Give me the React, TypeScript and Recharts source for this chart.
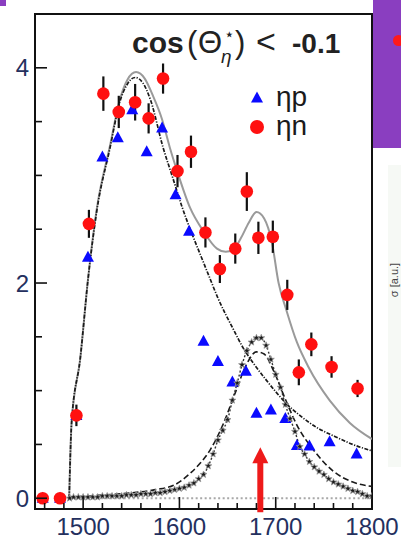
import React from 'react';
import {
  ComposedChart,
  Line,
  Scatter,
  XAxis,
  YAxis,
  ErrorBar,
  ReferenceArea,
  ReferenceDot,
  Legend,
} from 'recharts';

// ---- measured points -------------------------------------------------------
// eta n (quasi-free neutron), red circles with statistical errors
const etaNMass = [1458, 1476, 1493, 1506, 1521, 1537, 1554, 1568, 1583, 1598, 1612, 1627, 1642, 1658, 1670, 1682, 1697, 1712, 1724, 1737, 1758, 1785];
const etaNValue = [0.0, 0.0, 0.77, 2.55, 3.76, 3.59, 3.68, 3.53, 3.9, 3.04, 3.22, 2.47, 2.13, 2.32, 2.85, 2.42, 2.43, 1.89, 1.17, 1.43, 1.22, 1.02];
const etaNError = [0, 0, 0.1, 0.13, 0.16, 0.15, 0.17, 0.14, 0.14, 0.15, 0.15, 0.14, 0.13, 0.14, 0.18, 0.15, 0.15, 0.14, 0.12, 0.11, 0.1, 0.08];

// eta p (quasi-free proton), blue triangles
const etaPMass = [1458, 1476, 1493, 1505, 1520, 1536, 1551, 1566, 1582, 1596, 1610, 1625, 1640, 1655, 1669, 1680, 1695, 1710, 1722, 1735, 1756, 1784];
const etaPValue = [0, 0, 0.77, 2.24, 3.17, 3.35, 3.61, 3.22, 3.44, 2.82, 2.48, 1.46, 1.27, 1.08, 1.18, 0.79, 0.82, 0.74, 0.49, 0.485, 0.525, 0.41];

// ---- model curves ----------------------------------------------------------
// full fit to eta n (S11 + narrow structure), thin grey line
const fitNMass = [1485.5, 1488, 1497, 1505, 1514, 1528, 1538, 1546, 1555, 1564, 1572, 1582, 1590, 1598, 1611, 1625, 1639, 1648, 1656, 1664, 1672, 1680, 1688, 1696, 1703, 1711, 1722, 1734, 1756, 1777, 1800];
const fitNValue = [0, 0.7, 1.3, 2.03, 2.68, 3.28, 3.7, 3.89, 3.96, 3.9, 3.75, 3.52, 3.26, 3.03, 2.7, 2.48, 2.32, 2.29, 2.31, 2.42, 2.56, 2.66, 2.6, 2.38, 2.0, 1.75, 1.45, 1.22, 0.91, 0.7, 0.55];

// S11-type background, black dash-dot
const bgMass = [1485.5, 1488, 1497, 1505, 1514, 1528, 1538, 1546, 1554, 1562, 1570, 1583, 1593, 1603, 1612, 1621, 1630, 1640, 1656, 1666, 1678, 1690, 1700, 1711, 1725, 1744, 1760, 1780, 1800];
const bgValue = [0, 0.7, 1.3, 2.03, 2.66, 3.26, 3.68, 3.85, 3.91, 3.86, 3.7, 3.26, 2.98, 2.7, 2.48, 2.28, 2.08, 1.86, 1.57, 1.4, 1.24, 1.1, 0.99, 0.88, 0.77, 0.65, 0.58, 0.5, 0.44];

// narrow resonance folded with Fermi motion, stars
const narrowMass = [1486, 1490, 1495, 1500, 1505, 1510, 1515, 1520, 1525, 1530, 1535, 1540, 1545, 1550, 1555, 1560, 1565, 1570, 1575, 1580, 1585, 1590, 1595, 1600, 1605, 1610, 1615, 1620, 1625, 1630, 1635, 1640, 1645, 1650, 1655, 1660, 1665, 1670, 1675, 1680, 1685, 1690, 1695, 1700, 1705, 1710, 1715, 1720, 1725, 1730, 1735, 1740, 1745, 1750, 1755, 1760, 1765, 1770, 1775, 1780, 1785, 1790, 1795, 1800];
const narrowValue = [0.0, 0.01, 0.01, 0.01, 0.01, 0.01, 0.01, 0.02, 0.02, 0.02, 0.02, 0.02, 0.03, 0.03, 0.03, 0.04, 0.04, 0.04, 0.05, 0.05, 0.06, 0.07, 0.08, 0.09, 0.1, 0.12, 0.14, 0.18, 0.22, 0.3, 0.41, 0.54, 0.63, 0.73, 0.91, 1.07, 1.24, 1.37, 1.45, 1.49, 1.49, 1.42, 1.29, 1.15, 1.03, 0.87, 0.74, 0.62, 0.48, 0.41, 0.34, 0.29, 0.25, 0.22, 0.18, 0.15, 0.13, 0.11, 0.09, 0.07, 0.06, 0.04, 0.02, 0.02];

// broader resonance shape, black dashes
const broadMass = [1486, 1520, 1550, 1575, 1594, 1611, 1621, 1632, 1645, 1658, 1670, 1680, 1688, 1698, 1710, 1722, 1740, 1760, 1780, 1800];
const broadValue = [0.01, 0.03, 0.05, 0.08, 0.12, 0.23, 0.32, 0.45, 0.68, 0.98, 1.25, 1.36, 1.34, 1.18, 0.92, 0.68, 0.44, 0.25, 0.15, 0.11];

// zero reference above threshold
const zeroMass = [1486, 1800];
const zeroValue = [0, 0];

// axes
const xTicks = [1460, 1480, 1500, 1520, 1540, 1560, 1580, 1600, 1620, 1640, 1660, 1680, 1700, 1720, 1740, 1760, 1780, 1800];
const xLabelled = [1500, 1600, 1700, 1800];
const yTicks = [0, 0.5, 1, 1.5, 2, 2.5, 3, 3.5, 4];
const yLabelled = [0, 2, 4];

const arrowMass = 1684;

const legendItems = [
  { name: 'ηp', marker: 'triangle', color: '#0a0aff' },
  { name: 'ηn', marker: 'circle', color: '#ff1010' },
];

const zip = (m: number[], v: number[]) => m.map((mass, i) => ({ mass, value: v[i] }));

const etaN = etaNMass.map((mass, i) => ({ mass, value: etaNValue[i], err: etaNError[i] }));
const etaP = zip(etaPMass, etaPValue);
const fitN = zip(fitNMass, fitNValue);
const bg = zip(bgMass, bgValue);
const narrow = zip(narrowMass, narrowValue);
const broad = zip(broadMass, broadValue);
const zero = zip(zeroMass, zeroValue);

const LABEL_COLOR = '#24305e';
const FONT = '"Liberation Sans", Arial, sans-serif';

const XTick = (props: any) => {
  const { x, y, payload } = props;
  const major = xLabelled.includes(payload.value);
  return (
    <g>
      <line x1={x} x2={x} y1={y} y2={y - (major ? 12 : 6)} stroke="#111" strokeWidth={1.6} />
      {major && (
        <text x={x} y={y + 26} textAnchor="middle" fontSize={24} fontFamily={FONT} fill={LABEL_COLOR}>
          {payload.value}
        </text>
      )}
    </g>
  );
};

const YTick = (props: any) => {
  const { x, y, payload } = props;
  const major = yLabelled.includes(payload.value);
  return (
    <g>
      <line x1={x} x2={x + (major ? 12 : 7)} y1={y} y2={y} stroke="#111" strokeWidth={1.6} />
      {major && (
        <text x={x - 6} y={y} dy="0.36em" textAnchor="end" fontSize={24} fontFamily={FONT} fill={LABEL_COLOR}>
          {payload.value}
        </text>
      )}
    </g>
  );
};

const starPath = (cx: number, cy: number, R: number, r: number) => {
  let d = '';
  for (let k = 0; k < 10; k++) {
    const rad = k % 2 === 0 ? R : r;
    const a = -Math.PI / 2 + (k * Math.PI) / 5;
    d += `${k === 0 ? 'M' : 'L'}${(cx + rad * Math.cos(a)).toFixed(2)},${(cy + rad * Math.sin(a)).toFixed(2)}`;
  }
  return d + 'Z';
};

const StarDot = (props: any) => {
  const { cx, cy, index } = props;
  if (cx == null || cy == null) return <g key={`s${index}`} />;
  return (
    <path
      key={`s${index}`}
      d={starPath(cx, cy, 3.6, 1.5)}
      fill="#1a1a1a"
      stroke="#9a9a9a"
      strokeWidth={0.8}
    />
  );
};

const Triangle = (props: any) => {
  const { cx, cy } = props;
  return <path d={`M${cx},${cy - 6.5} L${cx + 6},${cy + 4.5} L${cx - 6},${cy + 4.5} Z`} fill="#0a0aff" />;
};

const RedDot = (props: any) => {
  const { cx, cy } = props;
  return <circle cx={cx} cy={cy} r={6.3} fill="#ff1010" />;
};

const Arrow = (props: any) => {
  const { cx, cy } = props;
  return (
    <g>
      <rect x={cx - 3} y={cy - 36} width={6} height={50} fill="#ee1a1a" />
      <path d={`M${cx},${cy - 51} L${cx + 8},${cy - 35} L${cx - 8},${cy - 35} Z`} fill="#ee1a1a" />
    </g>
  );
};

const LegendBox = () => (
  <svg width={100} height={62} style={{ overflow: 'visible', display: 'block' }}>
    {legendItems.map((it, i) => {
      const cy = 13 + i * 29;
      return (
        <g key={it.name}>
          {it.marker === 'triangle' ? (
            <path d={`M12,${cy - 6.5} L18,${cy + 4.5} L6,${cy + 4.5} Z`} fill={it.color} />
          ) : (
            <circle cx={12} cy={cy} r={7} fill={it.color} />
          )}
          <text x={31} y={cy + 8} fontSize={28} fontFamily={FONT} fill="#1a1a1a">
            {it.name}
          </text>
        </g>
      );
    })}
  </svg>
);

export default function App() {
  return (
    <div style={{ position: 'absolute', left: 0, top: 0, width: 401, height: 539, background: '#fff' }}>
      {/* neighbouring slide fragments */}
      <div style={{ position: 'absolute', left: 0, top: 0, width: 6, height: 6, background: '#8a3ec0' }} />
      <div style={{ position: 'absolute', left: 373, top: 0, width: 28, height: 148, background: '#8a3ec0', overflow: 'hidden' }}>
        <div style={{ position: 'absolute', left: 20, top: 35, width: 11, height: 11, borderRadius: 6, background: '#ff1a1a' }} />
      </div>
      <div style={{ position: 'absolute', left: 388, top: 165, width: 13, height: 302, background: '#f6f9f5' }}>
        <svg width={13} height={302} style={{ position: 'absolute', left: 0, top: 0 }}>
          <text
            x={10}
            y={115}
            transform="rotate(-90 10 115)"
            textAnchor="middle"
            fontSize={11}
            fontFamily={FONT}
            fill="#444"
          >
            σ [a.u.]
          </text>
        </svg>
      </div>

      <ComposedChart
        width={401}
        height={539}
        margin={{ top: 14, right: 29, bottom: 0, left: 0 }}
        style={{ position: 'absolute', left: 0, top: 0 }}
      >
        <XAxis
          dataKey="mass"
          type="number"
          domain={[1450, 1800]}
          ticks={xTicks}
          interval={0}
          height={30}
          tickSize={0}
          tickMargin={0}
          axisLine={false}
          tickLine={false}
          tick={<XTick />}
          allowDataOverflow
        />
        <YAxis
          type="number"
          domain={[-0.1, 4.5]}
          ticks={yTicks}
          interval={0}
          width={35}
          tickSize={0}
          tickMargin={0}
          axisLine={false}
          tickLine={false}
          tick={<YTick />}
          allowDataOverflow
        />
        <Legend
          layout="horizontal"
          verticalAlign="middle"
          align="center"
          content={<LegendBox />}
          wrapperStyle={{ position: 'absolute', left: 245, top: 85, width: 100, height: 62 }}
        />

        <Line data={zero} dataKey="value" type="linear" stroke="#a8a8a8" strokeWidth={2} strokeDasharray="2 2.5" dot={false} isAnimationActive={false} legendType="none" />
        <Line data={broad} dataKey="value" type="monotone" stroke="#1a1a1a" strokeWidth={1.6} strokeDasharray="6 3" dot={false} isAnimationActive={false} legendType="none" />
        <Line data={narrow} dataKey="value" type="monotone" stroke="#333" strokeWidth={1.4} strokeDasharray="2 2" dot={<StarDot />} isAnimationActive={false} legendType="none" />
        <Line data={fitN} dataKey="value" type="monotone" stroke="#9a9a9a" strokeWidth={2} dot={false} isAnimationActive={false} legendType="none" />
        <Line data={bg} dataKey="value" type="monotone" stroke="#1a1a1a" strokeWidth={1.7} strokeDasharray="4 1.5 1.2 1.5" dot={false} isAnimationActive={false} legendType="none" />

        <Scatter name="ηp" data={etaP} dataKey="value" shape={<Triangle />} isAnimationActive={false} />
        <Scatter name="ηn" data={etaN} dataKey="value" shape={<RedDot />} isAnimationActive={false}>
          <ErrorBar dataKey="err" direction="y" width={0} stroke="#111" strokeWidth={2.2} />
        </Scatter>

        <ReferenceArea x1={1450} x2={1800} y1={-0.1} y2={4.5} fill="none" fillOpacity={0} stroke="#111" strokeWidth={2} strokeOpacity={1} ifOverflow="visible" />
        <ReferenceDot x={arrowMass} y={0} shape={<Arrow />} ifOverflow="visible" />
      </ComposedChart>

      {/* angular cut label */}
      <svg width={401} height={80} style={{ position: 'absolute', left: 0, top: 0, pointerEvents: 'none' }}>
        <g fontFamily={FONT} fill="#222">
          <text x={132} y={53} fontSize={30} fontWeight="bold">cos</text>
          <text x={187} y={53} fontSize={31}>(</text>
          <text x={198} y={53} fontSize={31}>Θ</text>
          <text x={224} y={40} fontSize={17}>⋆</text>
          <text x={221} y={63} fontSize={19} fontStyle="italic">η</text>
          <text x={235} y={53} fontSize={31}>)</text>
          <text x={256} y={53} fontSize={34} fontWeight="lighter">&lt;</text>
          <text x={292} y={53} fontSize={28} fontWeight="bold">-0.1</text>
        </g>
      </svg>
    </div>
  );
}
